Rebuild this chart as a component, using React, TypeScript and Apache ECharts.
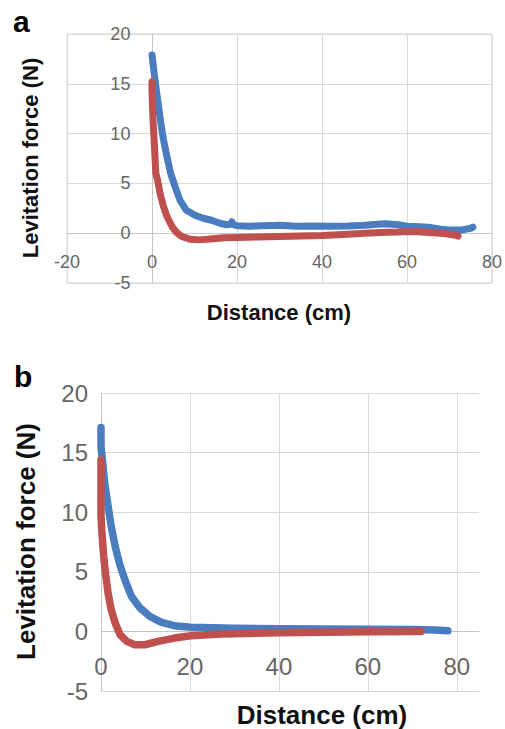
import React, { useEffect, useRef } from "react";
import * as echarts from "echarts";

// ---- Panel a data (distance cm, force N) ----
const aBlueX = [0, 0.2, 0.5, 1.0, 1.55, 2.1, 2.7, 3.5, 4.4, 5.4, 6.6, 8.1, 10.1, 12, 14, 16, 17.5, 18.5, 18.8, 19.2, 20, 23, 26, 30, 34, 38, 42, 46, 50, 53, 55, 58, 60, 63, 65, 68, 70, 73, 75, 75.5];
const aBlueY = [17.9, 17.2, 16.1, 14.4, 12.7, 11.0, 9.4, 7.7, 6.0, 4.7, 3.3, 2.3, 1.8, 1.5, 1.3, 1.0, 0.85, 0.9, 1.15, 0.85, 0.75, 0.7, 0.75, 0.8, 0.7, 0.72, 0.7, 0.72, 0.8, 0.9, 0.95, 0.85, 0.7, 0.65, 0.6, 0.4, 0.33, 0.33, 0.5, 0.6];
const aRedX = [0, 0, 0.2, 0.5, 0.9, 1.3, 1.9, 2.7, 3.5, 4.7, 5.8, 7.0, 8.9, 11.2, 14.3, 17, 20, 25, 30, 35, 40, 45, 50, 55, 58, 60, 63, 65, 68, 70, 71.5, 72];
const aRedY = [15.2, 14.4, 11.7, 9.4, 6.0, 5.35, 4.0, 2.7, 1.7, 0.67, 0.07, -0.33, -0.6, -0.67, -0.55, -0.45, -0.43, -0.38, -0.33, -0.28, -0.23, -0.12, 0, 0.1, 0.12, 0.17, 0.15, 0.07, 0, -0.1, -0.2, -0.3];

// ---- Panel b data ----
const bBlueX = [0, 0, 0.4, 0.8, 1.6, 2.3, 3.2, 4.3, 5.6, 6.9, 8.7, 11.0, 13.6, 16.5, 20.2, 25, 30, 40, 50, 60, 70, 75, 78];
const bBlueY = [17.1, 15.5, 14.1, 12.5, 10.5, 8.8, 7.1, 5.5, 4.1, 2.9, 2.0, 1.26, 0.76, 0.48, 0.34, 0.3, 0.27, 0.22, 0.2, 0.18, 0.15, 0.12, 0.05];
const bRedX = [0, 0, 0, 0, 0.2, 0.6, 1.0, 1.6, 2.3, 3.2, 4.3, 5.8, 7.6, 9.9, 12.8, 16.5, 20.2, 26.9, 30, 40, 50, 60, 72];
const bRedY = [14.4, 13.3, 11.1, 9.7, 8.3, 6.3, 4.9, 3.2, 1.8, 0.7, -0.28, -0.84, -1.12, -1.12, -0.84, -0.56, -0.36, -0.22, -0.2, -0.12, -0.08, -0.03, 0];

// ---- Axes ----
const aX = { min: -20, max: 80, interval: 20 };
const bX = { min: 0, max: 85, interval: 20 };
const yAxisRange = { min: -5, max: 20, interval: 5 };

const xTitle = "Distance (cm)";
const yTitle = "Levitation force (N)";

const BLUE = "#4A7DC0";
const RED = "#C0504D";
const GRID = "#d9d9d9";
const AXIS = "#c4c4c4";
const LABEL = "#666666";
const FONT = "'Liberation Sans', Arial, sans-serif";

// grid geometry
const GA = { left: 67, top: 34, width: 427, height: 249 };
const GB = { left: 101, top: 393, width: 378, height: 298 };

const zip = (xs: number[], ys: number[]) => xs.map((x, i) => [x, ys[i]]);

export default function App() {
  const ref = useRef<HTMLDivElement>(null);
  useEffect(() => {
    if (!ref.current) return;
    const chart = echarts.init(ref.current, null, { renderer: "svg" });
    // offsets so that the axes sit on the zero lines (like the Excel original)
    const yr = yAxisRange.max - yAxisRange.min;
    const aXOffset = -GA.height * (0 - yAxisRange.min) / yr;
    const bXOffset = -GB.height * (0 - yAxisRange.min) / yr;
    const aYOffset = -GA.width * (0 - aX.min) / (aX.max - aX.min);
    const lineSeries = (name: string, data: number[][], color: string, idx: number, w: number) => ({
      type: "line",
      name,
      xAxisIndex: idx,
      yAxisIndex: idx,
      data,
      showSymbol: false,
      symbol: "none",
      lineStyle: { color, width: w, cap: "round", join: "round" },
      z: 3,
    });
    chart.setOption({
      animation: false,
      backgroundColor: "#ffffff",
      grid: [
        { ...GA, show: true, borderColor: GRID, borderWidth: 1, backgroundColor: "transparent" },
        { ...GB },
      ],
      xAxis: [
        {
          type: "value", gridIndex: 0, ...aX, position: "bottom", offset: aXOffset,
          axisLine: { show: true, onZero: false, lineStyle: { color: AXIS, width: 1 } },
          axisTick: { show: false },
          axisLabel: { fontSize: 18, color: LABEL, margin: 20, fontFamily: FONT },
          splitLine: { show: true, lineStyle: { color: GRID, width: 1 } },
        },
        {
          type: "value", gridIndex: 1, ...bX, position: "bottom", offset: bXOffset,
          axisLine: { show: true, onZero: false, lineStyle: { color: AXIS, width: 1 } },
          axisTick: { show: false },
          axisLabel: { fontSize: 24, color: LABEL, margin: 23, fontFamily: FONT, showMaxLabel: false },
          splitLine: { show: true, lineStyle: { color: [GRID, GRID, GRID, GRID, GRID, "rgba(0,0,0,0)"], width: 1 } },
        },
      ],
      yAxis: [
        {
          type: "value", gridIndex: 0, ...yAxisRange, position: "left", offset: aYOffset,
          axisLine: { show: true, onZero: false, lineStyle: { color: AXIS, width: 1 } },
          axisTick: { show: false },
          axisLabel: { fontSize: 18, color: LABEL, margin: 22, fontFamily: FONT },
          splitLine: { show: true, lineStyle: { color: GRID, width: 1 } },
        },
        {
          type: "value", gridIndex: 1, ...yAxisRange, position: "left",
          axisLine: { show: true, onZero: false, lineStyle: { color: AXIS, width: 1 } },
          axisTick: { show: false },
          axisLabel: { fontSize: 24, color: LABEL, margin: 13, fontFamily: FONT },
          splitLine: { show: true, lineStyle: { color: GRID, width: 1 } },
        },
      ],
      series: [
        lineSeries("a-blue", zip(aBlueX, aBlueY), BLUE, 0, 7),
        lineSeries("a-red", zip(aRedX, aRedY), RED, 0, 7),
        lineSeries("b-blue", zip(bBlueX, bBlueY), BLUE, 1, 7.5),
        lineSeries("b-red", zip(bRedX, bRedY), RED, 1, 7.5),
      ],
      graphic: [
        { type: "text", x: 13, y: 21.5, style: { text: "a", fontSize: 30, fontWeight: "bold", fontFamily: FONT, fill: "#000", align: "left", verticalAlign: "middle" } },
        { type: "text", x: 14, y: 376.5, style: { text: "b", fontSize: 30, fontWeight: "bold", fontFamily: FONT, fill: "#000", align: "left", verticalAlign: "middle" } },
        { type: "text", x: 30.5, y: 158, rotation: Math.PI / 2, style: { text: yTitle, fontSize: 22, fontWeight: "bold", fontFamily: FONT, fill: "#111", align: "center", verticalAlign: "middle" } },
        { type: "text", x: 279, y: 312.5, style: { text: xTitle, fontSize: 22, fontWeight: "bold", fontFamily: FONT, fill: "#111", align: "center", verticalAlign: "middle" } },
        { type: "text", x: 25.5, y: 541.5, rotation: Math.PI / 2, style: { text: yTitle, fontSize: 26, fontWeight: "bold", fontFamily: FONT, fill: "#111", align: "center", verticalAlign: "middle" } },
        { type: "text", x: 322, y: 715, style: { text: xTitle, fontSize: 26, fontWeight: "bold", fontFamily: FONT, fill: "#111", align: "center", verticalAlign: "middle" } },
      ],
    });
    return () => chart.dispose();
  }, []);
  return <div ref={ref} style={{ position: "absolute", left: 0, top: 0, width: 505, height: 729 }} />;
}
